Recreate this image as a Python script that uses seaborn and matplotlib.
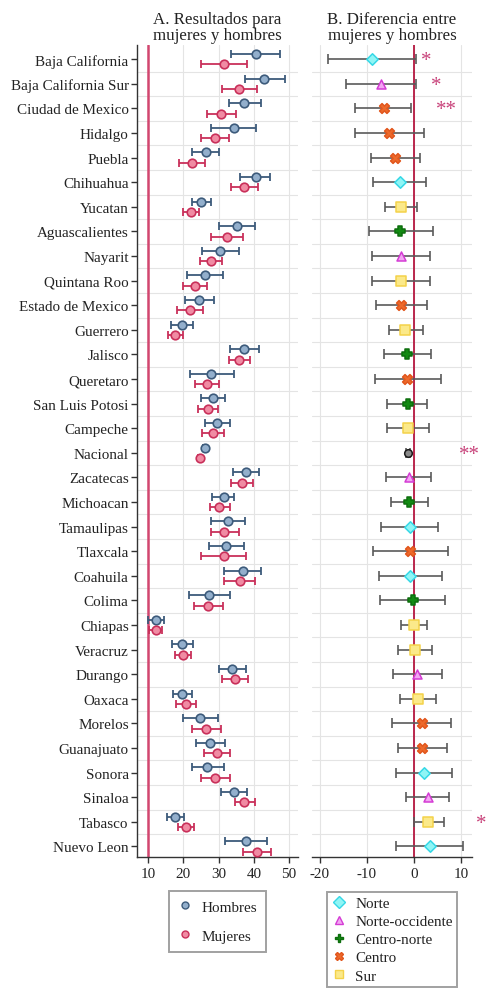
import numpy as np
import pandas as pd
import matplotlib
matplotlib.use("Agg")
import matplotlib.pyplot as plt
from matplotlib.lines import Line2D
import seaborn as sns

# ---------------------------------------------------------------- data
estados = [
    "Baja California", "Baja California Sur", "Ciudad de Mexico", "Hidalgo",
    "Puebla", "Chihuahua", "Yucatan", "Aguascalientes", "Nayarit",
    "Quintana Roo", "Estado de Mexico", "Guerrero", "Jalisco", "Queretaro",
    "San Luis Potosi", "Campeche", "Nacional", "Zacatecas", "Michoacan",
    "Tamaulipas", "Tlaxcala", "Coahuila", "Colima", "Chiapas", "Veracruz",
    "Durango", "Oaxaca", "Morelos", "Guanajuato", "Sonora", "Sinaloa",
    "Tabasco", "Nuevo Leon",
]

hombres = [40.5, 43.0, 37.3, 34.4, 26.4, 40.5, 25.0, 35.2, 30.5, 26.1, 24.6,
           19.6, 37.3, 28.0, 28.4, 29.6, 26.1, 37.7, 31.4, 32.6, 32.2, 36.9,
           27.3, 12.2, 19.7, 33.7, 19.7, 24.8, 27.7, 26.8, 34.5, 17.7, 37.7]
hombres_lo = [33.5, 37.5, 32.9, 28.0, 22.6, 36.1, 22.4, 30.1, 25.3, 21.1, 20.4,
              16.4, 33.3, 21.8, 25.0, 26.1, 25.6, 34.0, 28.2, 27.8, 27.3, 31.6,
              21.7, 9.9, 16.7, 30.0, 17.1, 20.0, 23.7, 22.5, 30.7, 15.3, 31.8]
hombres_hi = [47.4, 48.7, 41.9, 40.7, 30.2, 44.7, 27.8, 40.4, 35.9, 31.3, 28.8,
              22.8, 41.4, 34.3, 31.8, 33.2, 26.6, 41.5, 34.5, 37.6, 37.3, 42.1,
              33.1, 14.5, 22.7, 37.7, 22.6, 29.9, 31.8, 31.5, 38.1, 20.1, 43.7]

mujeres = [31.6, 35.8, 30.7, 29.0, 22.4, 37.2, 22.2, 32.4, 27.8, 23.3, 21.8,
           17.8, 35.9, 26.6, 26.9, 28.3, 24.8, 36.6, 30.2, 31.6, 31.5, 36.0,
           27.0, 12.2, 19.9, 34.6, 20.7, 26.5, 29.5, 29.0, 37.3, 20.7, 40.9]
mujeres_lo = [25.1, 31.0, 26.8, 25.1, 18.9, 33.6, 20.0, 27.9, 24.7, 19.9, 18.2,
              15.8, 32.9, 23.3, 24.2, 25.4, 24.3, 33.5, 27.7, 27.8, 25.1, 31.6,
              23.0, 10.4, 17.8, 30.9, 17.9, 22.4, 25.9, 25.0, 34.6, 18.6, 37.0]
mujeres_hi = [38.0, 40.9, 34.8, 32.9, 26.2, 41.1, 24.5, 36.8, 30.9, 26.8, 25.5,
              19.9, 38.9, 30.2, 29.9, 31.4, 25.3, 39.8, 33.1, 35.7, 37.9, 40.4,
              31.3, 13.9, 22.2, 38.3, 23.6, 30.6, 33.2, 33.1, 40.4, 23.1, 44.9]

region = ["Norte", "Norte-occidente", "Centro", "Centro", "Centro", "Norte",
          "Sur", "Centro-norte", "Norte-occidente", "Sur", "Centro", "Sur",
          "Centro-norte", "Centro", "Centro-norte", "Sur", "Nacional",
          "Norte-occidente", "Centro-norte", "Norte", "Centro", "Norte",
          "Centro-norte", "Sur", "Sur", "Norte-occidente", "Sur", "Centro",
          "Centro", "Norte", "Norte-occidente", "Sur", "Norte"]

diferencia = [-8.9, -7.1, -6.5, -5.3, -4.0, -3.0, -2.8, -2.9, -2.8, -2.8, -2.8,
              -1.9, -1.6, -1.5, -1.4, -1.3, -1.3, -1.1, -1.0, -0.9, -0.8, -0.8,
              -0.2, 0.0, 0.1, 0.6, 0.8, 1.6, 1.7, 2.1, 2.9, 3.0, 3.3]
diferencia_lo = [-18.2, -14.5, -12.5, -12.6, -9.1, -8.7, -6.2, -9.6, -8.9, -8.9,
                 -8.2, -5.4, -6.5, -8.3, -5.7, -5.7, -1.8, -5.9, -5.0, -7.1,
                 -8.7, -7.4, -7.2, -2.8, -3.5, -4.5, -3.0, -4.6, -3.5, -3.8,
                 -1.7, 0.0, -3.8]
diferencia_hi = [0.4, 0.4, -0.7, 2.1, 1.3, 2.5, 0.7, 4.1, 3.3, 3.3, 2.8, 1.9,
                 3.6, 5.7, 2.8, 3.2, -0.8, 3.6, 3.0, 5.1, 7.2, 5.9, 6.6, 2.8,
                 3.8, 6.0, 4.7, 7.8, 7.0, 8.0, 7.5, 6.4, 10.3]

significancia_estados = ["Baja California", "Baja California Sur",
                         "Ciudad de Mexico", "Nacional", "Tabasco"]
significancia = ["*", "*", "**", "**", "*"]

regiones = ["Norte", "Norte-occidente", "Centro-norte", "Centro", "Sur"]

# ---------------------------------------------------------------- styles
sig_x = [2.6, 4.7, 6.8, 11.7, 14.2]          # centres of the significance marks
region_style = {
    "Norte":           dict(marker="D", fc="#8ff5f5", ec="#36d8e6", s=34),
    "Norte-occidente": dict(marker="^", fc="#f2a6f2", ec="#d43cd4", s=42),
    "Centro-norte":    dict(marker="P", fc="#138a13", ec="#0d6e0d", s=62),
    "Centro":          dict(marker="X", fc="#ec6a2c", ec="#e2561c", s=50),
    "Sur":             dict(marker="s", fc="#fbe98a", ec="#f4d24a", s=42),
    "Nacional":        dict(marker="o", fc="#8a8a8a", ec="#1a1a1a", s=30),
}
H_FC, H_EC = "#93afcc", "#3d5b7b"
M_FC, M_EC = "#f08ba3", "#c9305a"
RED_A, RED_B, STAR = "#d2466f", "#b5173f", "#c8427a"

sns.set_theme(style="whitegrid")
plt.rcParams["font.family"] = ["Liberation Serif", "DejaVu Serif"]
plt.rcParams["text.color"] = "#222222"
plt.rcParams["axes.unicode_minus"] = False
FS = 10.9
FS_TITLE = 12.2

df = pd.DataFrame({
    "estado": estados, "y": np.arange(len(estados), dtype=float),
    "h": hombres, "h_lo": hombres_lo, "h_hi": hombres_hi,
    "m": mujeres, "m_lo": mujeres_lo, "m_hi": mujeres_hi,
    "region": region, "d": diferencia, "d_lo": diferencia_lo, "d_hi": diferencia_hi,
})
n = len(df)

fig = plt.figure(figsize=(4.87, 9.95), dpi=100)
W, H = 487, 995
axA = fig.add_axes([137 / W, 1 - 858 / H, (298 - 137) / W, (858 - 46) / H])
axB = fig.add_axes([312 / W, 1 - 858 / H, (472 - 312) / W, (858 - 46) / H])


def style_axis(ax):
    ax.set_facecolor("white")
    ax.set_ylim(n - 1 + 0.43, -0.58)
    ax.set_yticks(np.arange(n))
    ax.set_yticks(np.arange(n - 1) + 0.5, minor=True)
    ax.grid(False)
    ax.grid(True, axis="x", which="major", color="#e4e4e4", lw=0.8)
    ax.grid(True, axis="y", which="minor", color="#e4e4e4", lw=0.8)
    for s in ["top", "right"]:
        ax.spines[s].set_visible(False)
    ax.spines["bottom"].set_color("#333333")
    ax.spines["bottom"].set_linewidth(1.0)
    ax.tick_params(axis="x", which="major", bottom=True, length=4, width=1.0,
                   color="#333333", labelsize=FS, labelcolor="#222222", pad=3)
    ax.tick_params(axis="y", which="minor", left=False)
    ax.set_xlabel("")
    ax.set_ylabel("")


# ---------------------------------------------------------------- panel A
style_axis(axA)
axA.set_xlim(6.9, 52.5)
axA.set_xticks([10, 20, 30, 40, 50])
axA.axvline(10, color=RED_A, lw=1.8, zorder=1)
axA.spines["left"].set_color("#333333")
axA.spines["left"].set_linewidth(1.0)
axA.set_yticklabels(estados)
axA.tick_params(axis="y", which="major", left=True, length=4, width=1.0,
                color="#333333", labelsize=FS, labelcolor="#222222", pad=2)

off = 0.21
axA.errorbar(df["h"], df["y"] - off, xerr=[df["h"] - df["h_lo"], df["h_hi"] - df["h"]],
             fmt="none", ecolor=H_EC, elinewidth=1.3, capsize=3, capthick=1.3, zorder=2)
axA.errorbar(df["m"], df["y"] + off, xerr=[df["m"] - df["m_lo"], df["m_hi"] - df["m"]],
             fmt="none", ecolor=M_EC, elinewidth=1.3, capsize=3, capthick=1.3, zorder=2)
sns.scatterplot(x=df["h"], y=df["y"] - off, ax=axA, color=H_FC, edgecolor=H_EC,
                linewidth=1.2, s=38, zorder=3, legend=False)
sns.scatterplot(x=df["m"], y=df["y"] + off, ax=axA, color=M_FC, edgecolor=M_EC,
                linewidth=1.2, s=38, zorder=3, legend=False)
axA.set_xlabel("")
axA.set_ylabel("")
axA.set_title("A. Resultados para\nmujeres y hombres", fontsize=FS_TITLE, pad=4,
              color="#222222", linespacing=1.0)

legA = axA.legend(
    handles=[Line2D([], [], ls="none", marker="o", markersize=5, mfc=H_FC, mec=H_EC, mew=1.0),
             Line2D([], [], ls="none", marker="o", markersize=5, mfc=M_FC, mec=M_EC, mew=1.0)],
    labels=["Hombres", "Mujeres"], loc="upper center", bbox_to_anchor=(0.5, -0.042),
    frameon=True, fancybox=False, edgecolor="#8a8a8a", fontsize=FS,
    labelspacing=1.0, handlelength=0.9, handletextpad=0.6, borderpad=0.6,
    borderaxespad=0)
legA.get_frame().set_linewidth(1.4)

# ---------------------------------------------------------------- panel B
style_axis(axB)
axB.set_xlim(-21.7, 12.3)
axB.set_xticks([-20, -10, 0, 10])
axB.spines["left"].set_visible(False)
axB.set_yticklabels([])
axB.tick_params(axis="y", which="major", left=False, length=0)
axB.axvline(0, color=RED_B, lw=1.3, zorder=1)
axB.errorbar(df["d"], df["y"], xerr=[df["d"] - df["d_lo"], df["d_hi"] - df["d"]],
             fmt="none", ecolor="#5a5a5a", elinewidth=1.2, capsize=3.5, capthick=1.2,
             zorder=2)
for reg, st in region_style.items():
    sub = df[df["region"] == reg]
    sns.scatterplot(data=sub, x="d", y="y", ax=axB, marker=st["marker"],
                    color=st["fc"], edgecolor=st["ec"], linewidth=1.1, s=st["s"],
                    zorder=3, legend=False)
axB.set_xlabel("")
axB.set_ylabel("")
axB.set_title("B. Diferencia entre\nmujeres y hombres", fontsize=FS_TITLE, pad=4,
              color="#222222", linespacing=1.0)

for est, lab, xs in zip(significancia_estados, significancia, sig_x):
    yi = estados.index(est)
    axB.text(xs, yi + 0.06, lab, color=STAR, fontsize=15, ha="center", va="center",
             clip_on=False)

handlesB = [Line2D([], [], ls="none", marker=region_style[r]["marker"], markersize=6,
                   mfc=region_style[r]["fc"], mec=region_style[r]["ec"], mew=1.0)
            for r in regiones]
legB = axB.legend(handles=handlesB, labels=regiones, loc="upper center",
                  bbox_to_anchor=(0.5, -0.043), frameon=True, fancybox=False,
                  edgecolor="#8a8a8a", fontsize=FS, labelspacing=0.3,
                  handlelength=1.0, handletextpad=0.6, borderpad=0.3,
                  borderaxespad=0)
legB.get_frame().set_linewidth(1.4)

fig.savefig("out.png", dpi=100)
